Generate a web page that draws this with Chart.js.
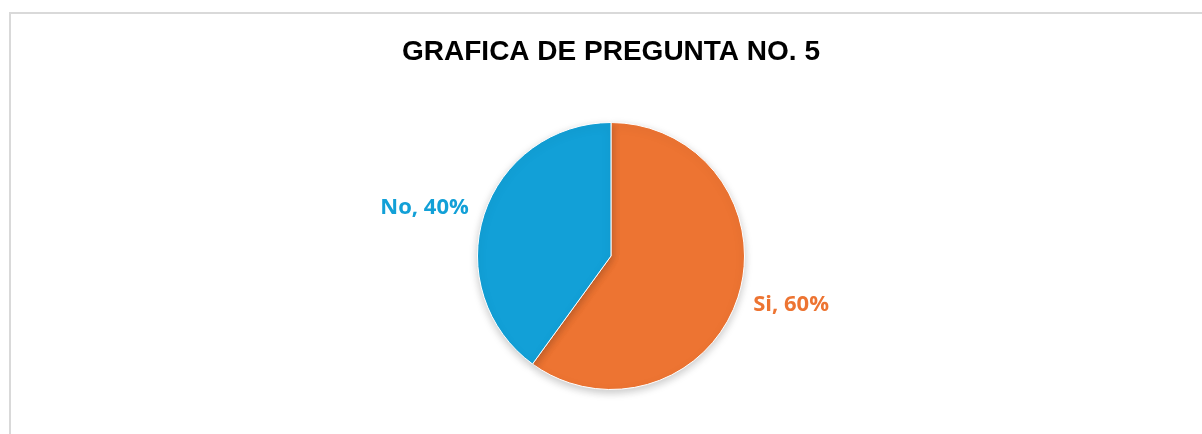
<!DOCTYPE html>
<html>
<head>
<meta charset="utf-8">
<script src="https://cdn.jsdelivr.net/npm/chart.js@4"></script>
<style>
  html, body { margin: 0; padding: 0; background: #fff; }
  #wrap { position: relative; width: 1202px; height: 434px; overflow: hidden; }
  #frame {
    position: absolute; left: 9px; top: 12px; right: -4px; bottom: -4px;
    border-left: 2px solid #d9d9d9; border-top: 2px solid #d9d9d9;
    pointer-events: none;
  }
  canvas { position: absolute; left: 0; top: 0; }
</style>
</head>
<body>
<div id="wrap">
  <canvas id="pieChart" width="1202" height="434"></canvas>
  <div id="frame"></div>
</div>
<script>
const chartTitle = "GRAFICA DE PREGUNTA NO. 5";
const answers = ["Si", "No"];
const percents = [60, 40];
const sliceColors = ["#ED7432", "#12A0D7"];

// draws "Si, 60%" style labels just outside each slice
const outsideLabels = {
  id: "outsideLabels",
  afterDatasetsDraw(chart) {
    const ctx = chart.ctx;
    const meta = chart.getDatasetMeta(0);
    ctx.save();
    ctx.font = "bold 22px 'Open Sans'";
    ctx.textBaseline = "middle";
    meta.data.forEach((arc, i) => {
      const mid = (arc.startAngle + arc.endAngle) / 2;
      const rx = arc.outerRadius * 1.12;
      const ry = arc.outerRadius * 1.17;
      const x = arc.x + Math.cos(mid) * rx;
      const y = arc.y + Math.sin(mid) * ry;
      ctx.fillStyle = sliceColors[i];
      ctx.textAlign = Math.cos(mid) >= 0 ? "left" : "right";
      ctx.fillText(`${answers[i]}, ${percents[i]}%`, x, y);
    });
    ctx.restore();
  }
};

// soft shadow under the pie
const pieShadow = {
  id: "pieShadow",
  beforeDatasetDraw(chart) {
    const ctx = chart.ctx;
    ctx.save();
    ctx.shadowColor = "rgba(0,0,0,0.22)";
    ctx.shadowBlur = 8;
    ctx.shadowOffsetY = 3;
  },
  afterDatasetDraw(chart) {
    chart.ctx.restore();
  }
};

new Chart(document.getElementById("pieChart"), {
  type: "pie",
  data: {
    labels: answers,
    datasets: [{
      data: percents,
      backgroundColor: sliceColors,
      borderColor: "#ffffff",
      borderWidth: 1
    }]
  },
  options: {
    responsive: false,
    animation: false,
    layout: { padding: { left: 20, right: 0, top: 0, bottom: 44 } },
    plugins: {
      legend: { display: false },
      tooltip: { enabled: false },
      title: {
        display: true,
        text: chartTitle,
        color: "#000000",
        font: { family: "Liberation Sans", size: 28, weight: "bold", lineHeight: 1.2 },
        padding: { top: 35.2, bottom: 53.2 }
      }
    }
  },
  plugins: [pieShadow, outsideLabels]
});
</script>
</body>
</html>
